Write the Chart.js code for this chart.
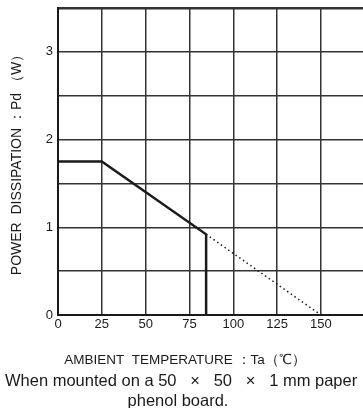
<!DOCTYPE html>
<html>
<head>
<meta charset="utf-8">
<script src="https://cdn.jsdelivr.net/npm/chart.js@4"></script>
<style>
  html, body { margin: 0; padding: 0; background: #fff; }
  #wrap { width: 363px; height: 408px; }
</style>
</head>
<body>
<div id="wrap"><canvas id="chart" width="363" height="408"></canvas></div>
<script>
// derating curve values
const solidX = [0, 25, 84.5, 84.5];
const solidY = [1.75, 1.75, 0.92, 0];
const dottedX = [84.5, 150];
const dottedY = [0.92, 0];

const xTicks = [0, 25, 50, 75, 100, 125, 150];
const yTicks = [0, 0.5, 1, 1.5, 2, 2.5, 3, 3.5];
const yLabels = ["0", "", "1", "", "2", "", "3", ""];

const yTitle = "POWER  DISSIPATION ：Pd （W）";
const noteLines = [
    "AMBIENT  TEMPERATURE ：Ta（℃）",
    "When mounted on a 50   ×   50   ×   1 mm paper",
    "phenol board."
];

const FONT = "'Liberation Sans', Arial, sans-serif";
const INK = "#1a1a1a";

function points(xs, ys) {
    return xs.map((x, i) => ({ x: x, y: ys[i] }));
}

const notes = {
    id: "notes",
    afterDraw(chart) {
        const c = chart.ctx;
        c.save();
        c.fillStyle = INK;
        c.textBaseline = "middle";
        c.font = "13.5px " + FONT;
        c.textAlign = "center";
        c.fillText(noteLines[0], 185, 360);
        c.font = "16.5px " + FONT;
        c.textAlign = "left";
        c.fillText(noteLines[1], 5, 381);
        c.textAlign = "center";
        c.fillText(noteLines[2], 178, 401);
        c.restore();
    }
};

new Chart(document.getElementById("chart").getContext("2d"), {
    type: "scatter",
    data: {
        datasets: [{
            data: points(solidX, solidY),
            showLine: true,
            borderColor: INK,
            borderWidth: 2.5,
            pointRadius: 0,
            tension: 0
        }, {
            data: points(dottedX, dottedY),
            showLine: true,
            borderColor: INK,
            borderWidth: 1.5,
            borderDash: [1.5, 3],
            pointRadius: 0,
            tension: 0
        }]
    },
    options: {
        responsive: false,
        animation: false,
        layout: { padding: { top: 8, right: 0, bottom: 0, left: 0 } },
        plugins: {
            legend: { display: false },
            tooltip: { enabled: false }
        },
        scales: {
            x: {
                type: "linear",
                min: 0,
                max: 174,
                afterBuildTicks: s => { s.ticks = xTicks.map(v => ({ value: v })); },
                afterFit: s => {
                    s.height = 93;
                    s.paddingLeft = 0;
                    s.paddingRight = 0;
                },
                grid: { color: "#333", lineWidth: 1.5, drawTicks: false },
                border: { color: INK, width: 2 },
                ticks: {
                    padding: 2,
                    color: INK,
                    font: { family: FONT, size: 13 },
                    maxRotation: 0,
                    autoSkip: false
                }
            },
            y: {
                min: 0,
                max: 3.5,
                afterBuildTicks: s => { s.ticks = yTicks.map(v => ({ value: v })); },
                afterFit: s => {
                    s.width = 58;
                    s.paddingTop = 0;
                    s.paddingBottom = 0;
                },
                grid: {
                    color: "#333",
                    lineWidth: ctx => (ctx.tick && ctx.tick.value === 3.5 ? 2.5 : 1.5),
                    drawTicks: false
                },
                border: { color: INK, width: 2 },
                ticks: {
                    padding: 5,
                    color: INK,
                    font: { family: FONT, size: 13 },
                    autoSkip: false,
                    callback: (v, i) => yLabels[i]
                },
                title: {
                    display: true,
                    text: yTitle,
                    color: INK,
                    font: { family: FONT, size: 14 },
                    padding: { top: 9, bottom: 0 }
                }
            }
        }
    },
    plugins: [notes]
});
</script>
</body>
</html>
